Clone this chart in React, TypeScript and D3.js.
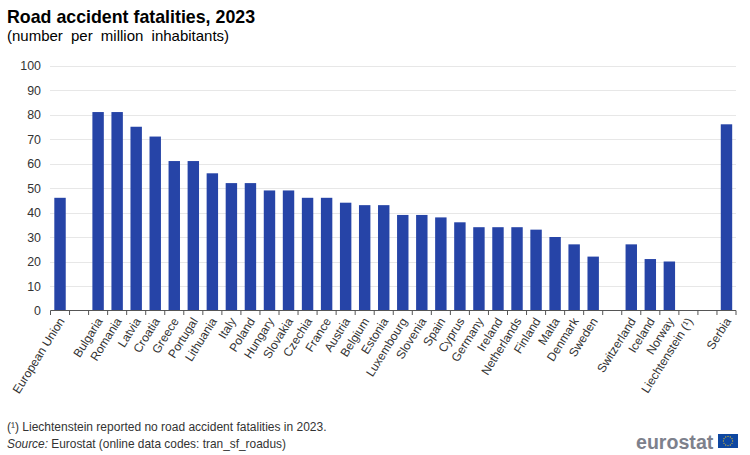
import React from "react";
import * as d3 from "d3";

const categories = ["European Union","_a","Bulgaria","Romania","Latvia","Croatia","Greece","Portugal","Lithuania","Italy","Poland","Hungary","Slovakia","Czechia","France","Austria","Belgium","Estonia","Luxembourg","Slovenia","Spain","Cyprus","Germany","Ireland","Netherlands","Finland","Malta","Denmark","Sweden","_b","Switzerland","Iceland","Norway","Liechtenstein (¹)","_c","Serbia"];
const values: (number|null)[] = [46,null,81,81,75,71,61,61,56,52,52,49,49,46,46,44,43,43,39,39,38,36,34,34,34,33,30,27,22,null,27,21,20,0,null,76];
const yTicks = [0,10,20,30,40,50,60,70,80,90,100];
const FONT = "'Liberation Sans', Arial, sans-serif";

export default function App() {
  const x = d3.scaleBand<string>().domain(categories).range([50.5, 736]).paddingInner(0.4).paddingOuter(0.2);
  const y = d3.scaleLinear().domain([0,100]).range([310.5, 65.5]);
  const edges = categories.map((_, i) => 50.5 + i * (685.5/36)).concat([736]);
  return (
    <svg width={750} height={455} style={{position:"absolute",left:0,top:0,background:"#fff"}} fontFamily={FONT}>
      <text x={7} y={22.5} fontSize={17.8} fontWeight="bold" fill="#000">Road accident fatalities, 2023</text>
      <text x={7} y={41} fontSize={15} fill="#000" wordSpacing={4}>(number per million inhabitants)</text>
      {yTicks.filter(t=>t>0).map(t=>(
        <line key={t} x1={50.5} x2={736} y1={Math.round(y(t))+0.5} y2={Math.round(y(t))+0.5} stroke="#cfcfcf" strokeWidth={1} strokeDasharray="1 1"/>
      ))}
      {yTicks.map(t=>(
        <text key={t} x={41} y={y(t)+4.5} fontSize={12.4} textAnchor="end" fill="#333">{t}</text>
      ))}
      {categories.map((c,i)=>{
        const v = values[i];
        if (v===null || v===0) return null;
        return <rect key={c} x={x(c)} y={y(v)} width={x.bandwidth()} height={y(0)-y(v)} fill="#2644a7"/>;
      })}
      <line x1={50.5} x2={736} y1={310.5} y2={310.5} stroke="#555" strokeWidth={1}/>
      {edges.map((e,i)=>(
        <line key={i} x1={e} x2={e} y1={310.5} y2={315} stroke="#555" strokeWidth={1}/>
      ))}
      {categories.map(c=>{
        if (c.startsWith("_")) return null;
        const cx = (x(c) as number) + x.bandwidth()/2;
        return <text key={c} transform={`translate(${cx+5},${321}) rotate(-58)`} fontSize={12} textAnchor="end" fill="#333">{c}</text>;
      })}
      <text x={7} y={431} fontSize={12} fill="#333">(¹) Liechtenstein reported no road accident fatalities in 2023.</text>
      <text x={7} y={448} fontSize={11.9} fill="#333"><tspan fontStyle="italic">Source:</tspan> Eurostat (online data codes: tran_sf_roadus)</text>
      <text x={636} y={449} fontSize={19.6} fontWeight="bold" fill="#7d818c">eurostat</text>
      <rect x={718} y={434} width={20} height={14} fill="#0e47a1"/>
      {d3.range(12).map(i=>{
        const a = i*Math.PI/6;
        return <circle key={i} cx={728+4.6*Math.cos(a)} cy={441+4.6*Math.sin(a)} r={0.65} fill="#c9b23c"/>;
      })}
    </svg>
  );
}
